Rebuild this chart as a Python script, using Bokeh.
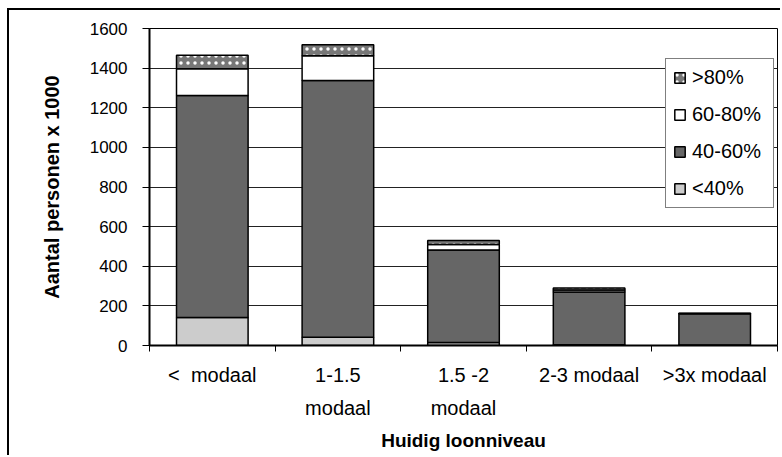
from bokeh.plotting import figure
from bokeh.models import FixedTicker, Legend, LegendItem, Range1d
from bokeh.embed import file_html
from bokeh.resources import INLINE

# ---- data ----
categories = ["<\u00a0\u00a0modaal", "1-1.5\nmodaal", "1.5 -2\nmodaal", "2-3 modaal", ">3x modaal"]
lt40 = [141, 42, 15, 4, 3]
p40_60 = [1121, 1296, 467, 266, 157]
p60_80 = [135, 124, 28, 10, 2]
gt80 = [68, 56, 20, 10, 1]
series_names = ["<40%", "40-60%", "60-80%", ">80%"]
y_ticks = [0, 200, 400, 600, 800, 1000, 1200, 1400, 1600]

xpos = [i + 0.5 for i in range(len(categories))]
boundaries = [float(i) for i in range(len(categories) + 1)]

FONT = "Liberation Sans"

p = figure(width=773, height=447, output_backend="svg", toolbar_location=None,
           x_range=Range1d(0, len(categories)), y_range=Range1d(0, 1600),
           min_border_left=140, min_border_right=5, min_border_top=18, min_border_bottom=112,
           background_fill_color="white", border_fill_color="white")
p.styles = {"margin-left": "7px", "margin-top": "8px",
            "border-left": "2px solid black", "border-top": "2px solid black"}

source = dict(x=xpos, lt40=lt40, p40_60=p40_60, p60_80=p60_80, gt80=gt80)
renderers = p.vbar_stack(["lt40", "p40_60", "p60_80", "gt80"], x="x", width=0.57,
                         source=source,
                         fill_color=["#cccccc", "#666666", "#ffffff", "#777777"],
                         line_color="black", line_width=1.5,
                         hatch_pattern=[None, None, None, "dot"],
                         hatch_color="white", hatch_scale=7, hatch_weight=1.5)

# axes
p.outline_line_color = "black"
p.outline_line_width = 1

p.yaxis.ticker = FixedTicker(ticks=y_ticks)
p.yaxis.axis_line_width = 2
p.yaxis.major_tick_out = 7
p.yaxis.major_tick_in = 0
p.yaxis.minor_tick_line_color = None
p.yaxis.major_label_standoff = 15
p.yaxis.major_label_text_font = FONT
p.yaxis.major_label_text_font_size = "17px"
p.yaxis.major_label_text_color = "black"
p.yaxis.axis_label = "Aantal personen x 1000"
p.yaxis.axis_label_text_font = FONT
p.yaxis.axis_label_text_font_size = "20px"
p.yaxis.axis_label_text_font_style = "bold"
p.yaxis.axis_label_text_color = "black"
p.yaxis.axis_label_standoff = 24

p.xaxis.ticker = FixedTicker(ticks=xpos, minor_ticks=boundaries)
p.xaxis.major_label_overrides = {x: c for x, c in zip(xpos, categories)}
p.xaxis.axis_line_width = 2
p.xaxis.major_tick_out = 0
p.xaxis.major_tick_in = 0
p.xaxis.minor_tick_out = 6
p.xaxis.minor_tick_in = 0
p.xaxis.minor_tick_line_color = "black"
p.xaxis.major_label_standoff = 12
p.xaxis.major_label_text_font = FONT
p.xaxis.major_label_text_font_size = "20px"
p.xaxis.major_label_text_color = "black"
p.xaxis.major_label_text_line_height = 1.5
p.xaxis.axis_label = "Huidig loonniveau"
p.xaxis.axis_label_text_font = FONT
p.xaxis.axis_label_text_font_size = "19px"
p.xaxis.axis_label_text_font_style = "bold"
p.xaxis.axis_label_text_color = "black"
p.xaxis.axis_label_standoff = 8

p.xgrid.grid_line_color = None
p.ygrid.grid_line_color = "#222222"
p.ygrid.grid_line_width = 1

items = [LegendItem(label=series_names[i], renderers=[renderers[i]]) for i in [3, 2, 1, 0]]
legend = Legend(items=items, location=(516, 137),
                glyph_width=13, glyph_height=13, label_height=23, label_width=74,
                label_standoff=6, padding=7, spacing=14, margin=0,
                label_text_font=FONT, label_text_font_size="20px", label_text_color="black",
                border_line_color="black", border_line_width=1,
                background_fill_color="white", background_fill_alpha=1)
p.add_layout(legend, "center")

open("out.html", "w").write(file_html(p, INLINE))
